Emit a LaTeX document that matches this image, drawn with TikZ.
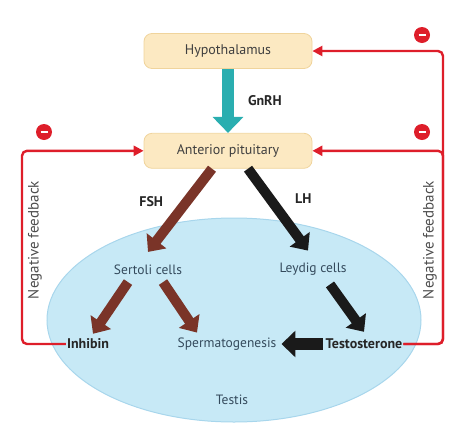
\documentclass[tikz,border=0pt]{standalone}
\usepackage{fontspec}
\setmainfont{PT Sans}
\usepackage{xcolor}
\usetikzlibrary{positioning,shapes,arrows.meta,calc}
\definecolor{boxfill}{RGB}{252,233,194}
\definecolor{boxline}{RGB}{240,212,156}
\definecolor{testisfill}{RGB}{199,233,246}
\definecolor{testisline}{RGB}{168,214,236}
\definecolor{gnrhcol}{RGB}{42,174,176}
\definecolor{fshcol}{RGB}{122,52,40}
\definecolor{lhcol}{RGB}{26,26,26}
\definecolor{fbred}{RGB}{222,30,42}
\definecolor{celltext}{RGB}{52,74,92}
\tikzstyle{gland}=[%
      rectangle, rounded corners=8pt, draw=boxline, fill=boxfill, thick,
      minimum width=168pt, minimum height=35pt, text=black!75,
      font=\fontsize{14}{16}\selectfont
]
\tikzstyle{cell}=[%
      text=celltext, inner sep=1pt, font=\fontsize{13.5}{16}\selectfont
]
\tikzstyle{horm}=[%
      text=black!85, inner sep=1pt, font=\bfseries\fontsize{14}{16}\selectfont
]
\tikzstyle{side}=[%
      text=black!70, inner sep=1pt, rotate=90, font=\fontsize{15}{17}\selectfont
]
\tikzstyle{fat}=[%
      line width=10pt, -{Triangle[length=14pt,width=24pt]}
]
\tikzstyle{fb}=[%
      draw=fbred, line width=2.4pt, rounded corners=5pt, -{Triangle[length=10pt,width=10pt]}
]
\tikzstyle{minus}=[%
      circle, fill=fbred, minimum size=16pt, inner sep=0pt
]
\begin{document}
\begin{tikzpicture}[x=1pt,y=-1pt]
    \useasboundingbox (0,0) rectangle (474,437);
    \node[ellipse, draw=testisline, fill=testisfill, line width=1pt,
          minimum width=374pt, minimum height=204pt] (testis) at (234,320) {};
    \node[gland]            (hyp)   at (228,51)            {Hypothalamus};
    \node[gland]            (pit)   [below=64pt of hyp]    {Anterior pituitary};
    \node[cell]             (sert)  at (148,270)           {Sertoli cells};
    \node[cell]             (leyd)  at (313,269)           {Leydig cells};
    \node[horm]             (inh)   at (88,344)            {Inhibin};
    \node[cell]             (sperm) at (227,344)           {Spermatogenesis};
    \node[horm]             (testo) at (364,344)           {Testosterone};
    \node[cell]             (tlbl)  at (232,400)           {Testis};
    \node[side]             (nfl)   at (35,240)            {Negative feedback};
    \node[side]             (nfr)   at (430,240)           {Negative feedback};
    \node[minus] (m1) at (422,35)  {\textcolor{white}{\rule{7pt}{2pt}}};
    \node[minus] (m2) at (422,132) {\textcolor{white}{\rule{7pt}{2pt}}};
    \node[minus] (m3) at (44,132)  {\textcolor{white}{\rule{7pt}{2pt}}};
    \coordinate (lx) at (22,0);
    \coordinate (rx) at (443,0);

    % hormones
    \draw[gnrhcol, line width=12pt, -{Triangle[length=16pt,width=30pt]}]
          (hyp.south) -- (pit.north) node[horm, midway, right=13pt] {GnRH};
    \draw[fat, fshcol] ([xshift=-16pt]pit.south) -- ([yshift=12pt]sert.north)
          node[horm, pos=.39, left=18pt] {FSH};
    \draw[fat, lhcol] ([xshift=20pt]pit.south) -- ([xshift=-5pt,yshift=11pt]leyd.north)
          node[horm, pos=.37, right=19pt] {LH};
    \draw[fat, fshcol] ([xshift=-20pt,yshift=-6pt]sert.south) -- ([xshift=5pt,yshift=4pt]inh.north);
    \draw[fat, fshcol] ([xshift=15pt,yshift=-6pt]sert.south) -- ([xshift=-30pt,yshift=4pt]sperm.north);
    \draw[fat, lhcol] ([xshift=17pt,yshift=-8pt]leyd.south) -- ([yshift=6pt]testo.north);
    \draw[lhcol, line width=12pt, -{Triangle[length=14pt,width=26pt]}]
          ([xshift=-2pt]testo.west) -- ([xshift=4pt]sperm.east);

    % negative feedback
    \draw[fb] (inh.west) -| (lx |- pit.west) -- (pit.west);
    \draw[fb] (testo.east) -| (rx |- hyp.east) -- (hyp.east);
    \draw[fb] (testo.east) -| (rx |- pit.east) -- (pit.east);
\end{tikzpicture}
\end{document}
